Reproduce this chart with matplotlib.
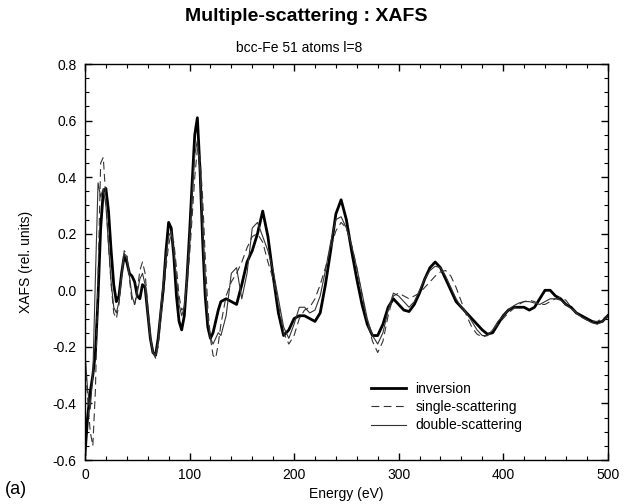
import numpy as np
import matplotlib
matplotlib.use("Agg")
import matplotlib.pyplot as plt
from matplotlib.ticker import MultipleLocator

plt.rcParams['font.family'] = ['Liberation Sans', 'DejaVu Sans']

# ============================================================
# Data
# ============================================================
# energy sampling: 2.5 eV up to 130 eV, then 5 eV up to 500 eV
energy = np.concatenate([np.arange(0.0, 130.1, 2.5), np.arange(135.0, 500.1, 5.0)])

inversion = [
    -0.58, -0.45, -0.36, -0.30, -0.22, -0.02, 0.22, 0.35, 0.36, 0.28,
    0.14, 0.02, -0.04, -0.02, 0.06, 0.12, 0.10, 0.06, 0.05, 0.03,
    -0.02, -0.03, 0.02, 0.01, -0.08, -0.17, -0.22, -0.23, -0.17, -0.08,
    0.01, 0.14, 0.24, 0.22, 0.12, -0.02, -0.11, -0.14, -0.09, 0.04,
    0.20, 0.38, 0.55, 0.61, 0.43, 0.18, -0.02, -0.13, -0.17, -0.15,
    -0.11, -0.07, -0.04,
    # 135 .. 500
    -0.03, -0.04, -0.05, 0.02, 0.10, 0.14, 0.20, 0.28, 0.19, 0.05,
    -0.08, -0.16, -0.14, -0.10, -0.09, -0.09, -0.10, -0.11, -0.08, 0.02,
    0.14, 0.27, 0.32, 0.25, 0.14, 0.04, -0.05, -0.12, -0.16, -0.16,
    -0.12, -0.06, -0.03, -0.05, -0.07, -0.075, -0.05, -0.01, 0.04, 0.08,
    0.10, 0.08, 0.04, 0.00, -0.04, -0.06, -0.08, -0.10, -0.12, -0.14,
    -0.155, -0.15, -0.12, -0.09, -0.07, -0.06, -0.06, -0.06, -0.07, -0.06,
    -0.03, 0.00, 0.00, -0.02, -0.03, -0.05, -0.06, -0.08, -0.09, -0.10,
    -0.11, -0.115, -0.11, -0.09,
]

single_scattering = [
    -0.25, -0.38, -0.50, -0.55, -0.35, 0.05, 0.45, 0.47, 0.32, 0.16,
    0.02, -0.08, -0.10, -0.05, 0.05, 0.14, 0.13, 0.04, -0.04, -0.05,
    0.00, 0.07, 0.10, 0.06, -0.05, -0.16, -0.22, -0.24, -0.20, -0.10,
    -0.02, 0.08, 0.16, 0.20, 0.17, 0.08, -0.02, -0.07, -0.06, 0.02,
    0.12, 0.26, 0.40, 0.50, 0.47, 0.33, 0.12, -0.06, -0.17, -0.23,
    -0.24, -0.19, -0.12,
    # 135 .. 500
    -0.02, 0.03, 0.06, 0.10, 0.15, 0.19, 0.20, 0.17, 0.10, 0.04,
    -0.05, -0.15, -0.19, -0.16, -0.10, -0.07, -0.06, -0.03, 0.02, 0.08,
    0.15, 0.21, 0.24, 0.22, 0.16, 0.08, -0.02, -0.11, -0.18, -0.22,
    -0.18, -0.09, -0.02, -0.01, -0.02, -0.03, -0.02, -0.01, 0.01, 0.03,
    0.05, 0.065, 0.07, 0.05, 0.01, -0.04, -0.09, -0.13, -0.155, -0.165,
    -0.16, -0.14, -0.12, -0.10, -0.08, -0.065, -0.05, -0.04, -0.035, -0.04,
    -0.05, -0.05, -0.04, -0.03, -0.025, -0.035, -0.06, -0.08, -0.095, -0.105,
    -0.11, -0.11, -0.10, -0.09,
]

double_scattering = [
    -0.22, -0.35, -0.42, -0.30, 0.05, 0.38, 0.33, 0.36, 0.30, 0.16,
    0.03, -0.06, -0.08, -0.04, 0.05, 0.13, 0.12, 0.05, -0.02, -0.05,
    -0.01, 0.04, 0.06, 0.02, -0.08, -0.17, -0.22, -0.23, -0.18, -0.06,
    0.03, 0.12, 0.19, 0.21, 0.14, 0.04, -0.05, -0.09, -0.06, 0.04,
    0.18, 0.34, 0.48, 0.53, 0.42, 0.22, 0.02, -0.10, -0.17, -0.19,
    -0.17, -0.15, -0.16,
    # 135 .. 500
    -0.09, 0.06, 0.08, -0.03, 0.06, 0.22, 0.24, 0.19, 0.14, 0.07,
    -0.03, -0.13, -0.17, -0.12, -0.06, -0.06, -0.08, -0.07, -0.02, 0.07,
    0.17, 0.25, 0.26, 0.22, 0.16, 0.08, -0.01, -0.10, -0.16, -0.19,
    -0.15, -0.07, -0.01, -0.02, -0.04, -0.06, -0.04, 0.00, 0.04, 0.07,
    0.085, 0.08, 0.05, 0.01, -0.03, -0.06, -0.08, -0.11, -0.14, -0.16,
    -0.16, -0.14, -0.11, -0.09, -0.07, -0.055, -0.045, -0.04, -0.04, -0.045,
    -0.05, -0.04, -0.03, -0.03, -0.035, -0.05, -0.065, -0.08, -0.095, -0.105,
    -0.115, -0.12, -0.11, -0.095,
]

labels = ["inversion", "single-scattering", "double-scattering"]


def main():
    fig = plt.figure(figsize=(6.39, 5.04), dpi=100)
    ax = fig.add_axes([0.133, 0.0873, 0.818, 0.7857])

    ax.plot(energy, inversion, color='black', lw=2.0, label=labels[0])
    ax.plot(energy, single_scattering, color='#333333', lw=0.8,
            dashes=(7, 4), label=labels[1])
    ax.plot(energy, double_scattering, color='#333333', lw=0.8, label=labels[2])

    ax.set_xlim(0, 500)
    ax.set_ylim(-0.6, 0.8)
    ax.xaxis.set_major_locator(MultipleLocator(100))
    ax.xaxis.set_minor_locator(MultipleLocator(20))
    ax.yaxis.set_major_locator(MultipleLocator(0.2))
    ax.yaxis.set_minor_locator(MultipleLocator(0.05))
    ax.yaxis.set_major_formatter(matplotlib.ticker.FormatStrFormatter('%.1f'))
    ax.tick_params(which='both', direction='in', top=True, right=True, labelsize=10)
    ax.tick_params(which='major', length=5, width=1.0, pad=6)
    ax.tick_params(which='minor', length=3, width=0.8)
    for sp in ax.spines.values():
        sp.set_linewidth(1.0)

    ax.set_xlabel('Energy (eV)', fontsize=10, labelpad=3)
    ax.set_ylabel('XAFS (rel. units)', fontsize=10, labelpad=14)

    ax.legend(loc='upper left', bbox_to_anchor=(0.547, 0.198), frameon=False,
              fontsize=10, handlelength=2.5, handletextpad=0.7,
              labelspacing=0.32, borderpad=0, borderaxespad=0)

    fig.text(0.479, 0.968, 'Multiple-scattering : XAFS', ha='center', va='center',
             fontsize=14, fontweight='bold')
    fig.text(0.468, 0.905, 'bcc-Fe 51 atoms l=8', ha='center', va='center',
             fontsize=10)
    fig.text(0.008, 0.028, '(a)', fontsize=13, ha='left', va='center')

    fig.savefig('out.png', dpi=100)


if __name__ == "__main__":
    main()
